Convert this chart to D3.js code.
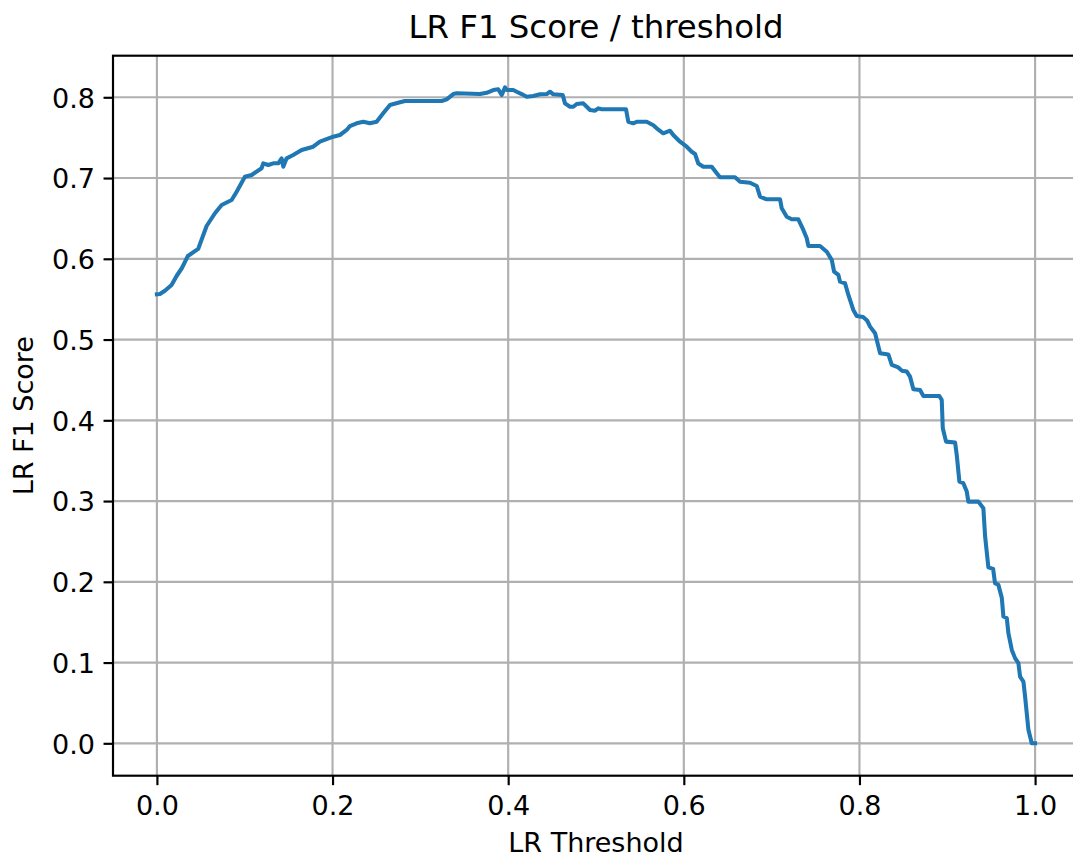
<!DOCTYPE html>
<html>
<head>
<meta charset="utf-8">
<script src="https://cdn.jsdelivr.net/npm/d3@7"></script>
<style>
  html, body { margin: 0; padding: 0; background: #fff; }
  svg { display: block; }
  text { font-family: "DejaVu Sans", sans-serif; fill: #000; }
</style>
</head>
<body>
<script>
// F1 score of the logistic regression model as a function of decision threshold
const thresholds = [
  0.0000, 0.0034, 0.0091, 0.0167, 0.0224, 0.0285, 0.0353, 0.0470, 0.0524, 0.0566,
  0.0661, 0.0737, 0.0851, 0.0908, 0.1002, 0.1079, 0.1192, 0.1211, 0.1268, 0.1325,
  0.1382, 0.1420, 0.1439, 0.1477, 0.1552, 0.1648, 0.1780, 0.1856, 0.2008, 0.2084,
  0.2161, 0.2198, 0.2274, 0.2350, 0.2426, 0.2502, 0.2577, 0.2654, 0.2768, 0.2825,
  0.3243, 0.3300, 0.3375, 0.3413, 0.3679, 0.3755, 0.3830, 0.3887, 0.3926, 0.3964,
  0.3983, 0.4058, 0.4097, 0.4154, 0.4211, 0.4286, 0.4362, 0.4439, 0.4476, 0.4514,
  0.4621, 0.4647, 0.4704, 0.4742, 0.4780, 0.4855, 0.4894, 0.4932, 0.4989, 0.5026,
  0.5065, 0.5342, 0.5368, 0.5425, 0.5464, 0.5577, 0.5653, 0.5691, 0.5766, 0.5843,
  0.5880, 0.5957, 0.6033, 0.6090, 0.6128, 0.6165, 0.6222, 0.6318, 0.6375, 0.6412,
  0.6583, 0.6640, 0.6754, 0.6830, 0.6868, 0.6944, 0.7096, 0.7115, 0.7172, 0.7229,
  0.7304, 0.7361, 0.7400, 0.7418, 0.7551, 0.7628, 0.7685, 0.7711, 0.7760, 0.7779,
  0.7836, 0.7874, 0.7930, 0.7969, 0.8041, 0.8087, 0.8121, 0.8178, 0.8235, 0.8329,
  0.8368, 0.8443, 0.8482, 0.8539, 0.8576, 0.8614, 0.8690, 0.8728, 0.8910, 0.8937,
  0.8949, 0.8986, 0.9089, 0.9108, 0.9138, 0.9183, 0.9222, 0.9240, 0.9354, 0.9411,
  0.9431, 0.9468, 0.9522, 0.9544, 0.9582, 0.9621, 0.9639, 0.9678, 0.9696, 0.9735,
  0.9772, 0.9810, 0.9829, 0.9867, 0.9886, 0.9924, 0.9962, 1.0000
];
const f1Scores = [
  0.5560, 0.5564, 0.5605, 0.5676, 0.5787, 0.5886, 0.6035, 0.6122, 0.6282, 0.6406,
  0.6564, 0.6666, 0.6728, 0.6831, 0.7017, 0.7038, 0.7121, 0.7182, 0.7161, 0.7182,
  0.7182, 0.7244, 0.7141, 0.7244, 0.7285, 0.7347, 0.7388, 0.7450, 0.7512, 0.7533,
  0.7595, 0.7644, 0.7678, 0.7697, 0.7678, 0.7697, 0.7801, 0.7904, 0.7938, 0.7954,
  0.7954, 0.7975, 0.8040, 0.8049, 0.8040, 0.8056, 0.8090, 0.8099, 0.8028, 0.8123,
  0.8090, 0.8090, 0.8069, 0.8040, 0.8007, 0.8016, 0.8037, 0.8040, 0.8069, 0.8037,
  0.8028, 0.7925, 0.7883, 0.7883, 0.7917, 0.7925, 0.7883, 0.7842, 0.7834, 0.7863,
  0.7851, 0.7851, 0.7697, 0.7678, 0.7697, 0.7697, 0.7653, 0.7616, 0.7554, 0.7586,
  0.7533, 0.7450, 0.7388, 0.7326, 0.7298, 0.7180, 0.7140, 0.7140, 0.7059, 0.7009,
  0.7009, 0.6955, 0.6942, 0.6902, 0.6769, 0.6737, 0.6737, 0.6625, 0.6521, 0.6489,
  0.6489, 0.6357, 0.6254, 0.6159, 0.6159, 0.6088, 0.5985, 0.5841, 0.5800, 0.5717,
  0.5697, 0.5552, 0.5366, 0.5292, 0.5280, 0.5236, 0.5160, 0.5078, 0.4830, 0.4816,
  0.4686, 0.4655, 0.4615, 0.4603, 0.4541, 0.4385, 0.4376, 0.4302, 0.4302, 0.4252,
  0.3902, 0.3736, 0.3724, 0.3571, 0.3241, 0.3221, 0.3117, 0.2993, 0.2993, 0.2912,
  0.2560, 0.2179, 0.2160, 0.1983, 0.1962, 0.1801, 0.1570, 0.1550, 0.1364, 0.1157,
  0.1055, 0.0993, 0.0827, 0.0765, 0.0579, 0.0167, 0.0000, 0.0000
];
const xTicks = [0.0, 0.2, 0.4, 0.6, 0.8, 1.0];
const yTicks = [0.0, 0.1, 0.2, 0.3, 0.4, 0.5, 0.6, 0.7, 0.8];
const titleText = "LR F1 Score / threshold";
const xLabelText = "LR Threshold";
const yLabelText = "LR F1 Score";

const W = 1073, H = 857;
const plot = { left: 113, right: 1079, top: 55.7, bottom: 775.7 };
const pt = 2.706; // pixels per point

const svg = d3.select("body").append("svg")
  .attr("width", W).attr("height", H);

const x = d3.scaleLinear().domain([-0.05, 1.05]).range([plot.left, plot.right]);
const y = d3.scaleLinear().domain([-0.0401, 0.8515]).range([plot.bottom, plot.top]);

// grid
const grid = svg.append("g").attr("stroke", "#b0b0b0").attr("stroke-width", 0.8 * pt);
grid.selectAll("line.gx").data(xTicks).join("line")
  .attr("x1", d => x(d)).attr("x2", d => x(d))
  .attr("y1", plot.top).attr("y2", plot.bottom);
grid.selectAll("line.gy").data(yTicks).join("line")
  .attr("x1", plot.left).attr("x2", plot.right)
  .attr("y1", d => y(d)).attr("y2", d => y(d));

// curve
const pts = thresholds.map((t, i) => [t, f1Scores[i]]);
svg.append("path")
  .datum(pts)
  .attr("fill", "none")
  .attr("stroke", "#1f77b4")
  .attr("stroke-width", 1.5 * pt)
  .attr("stroke-linejoin", "round")
  .attr("stroke-linecap", "square")
  .attr("d", d3.line().x(d => x(d[0])).y(d => y(d[1])));

// axes
const tickLen = 3.5 * pt, tickPad = 3.5 * pt;
const xAxis = d3.axisBottom(x).tickValues(xTicks).tickFormat(d3.format(".1f"))
  .tickSizeInner(tickLen).tickSizeOuter(0).tickPadding(tickPad);
const yAxis = d3.axisLeft(y).tickValues(yTicks).tickFormat(d3.format(".1f"))
  .tickSizeInner(tickLen).tickSizeOuter(0).tickPadding(tickPad);

const gx = svg.append("g").attr("transform", `translate(0,${plot.bottom})`).call(xAxis);
const gy = svg.append("g").attr("transform", `translate(${plot.left},0)`).call(yAxis);
[gx, gy].forEach(g => {
  g.select(".domain").remove();
  g.selectAll(".tick line").attr("stroke", "#000").attr("stroke-width", 0.8 * pt);
  g.selectAll(".tick text")
    .attr("font-family", "DejaVu Sans")
    .attr("font-size", 27)
    .attr("fill", "#000");
});
gx.selectAll(".tick text").attr("dy", null).attr("y", tickLen + tickPad + 20.5);
gy.selectAll(".tick text").attr("dy", null).attr("x", -(tickLen + tickPad - 1)).attr("y", 9.8);

// spines
svg.append("rect")
  .attr("x", plot.left).attr("y", plot.top)
  .attr("width", plot.right - plot.left).attr("height", plot.bottom - plot.top)
  .attr("fill", "none").attr("stroke", "#000").attr("stroke-width", 0.8 * pt);

// title and labels
const cx = (plot.left + plot.right) / 2;
svg.append("text").attr("x", cx).attr("y", 38)
  .attr("text-anchor", "middle").attr("font-size", 32.4).text(titleText);
svg.append("text").attr("x", cx).attr("y", 852)
  .attr("text-anchor", "middle").attr("font-size", 27).text(xLabelText);
svg.append("text")
  .attr("transform", `translate(32.5,${(plot.top + plot.bottom) / 2}) rotate(-90)`)
  .attr("text-anchor", "middle").attr("font-size", 27).text(yLabelText);
</script>
</body>
</html>
